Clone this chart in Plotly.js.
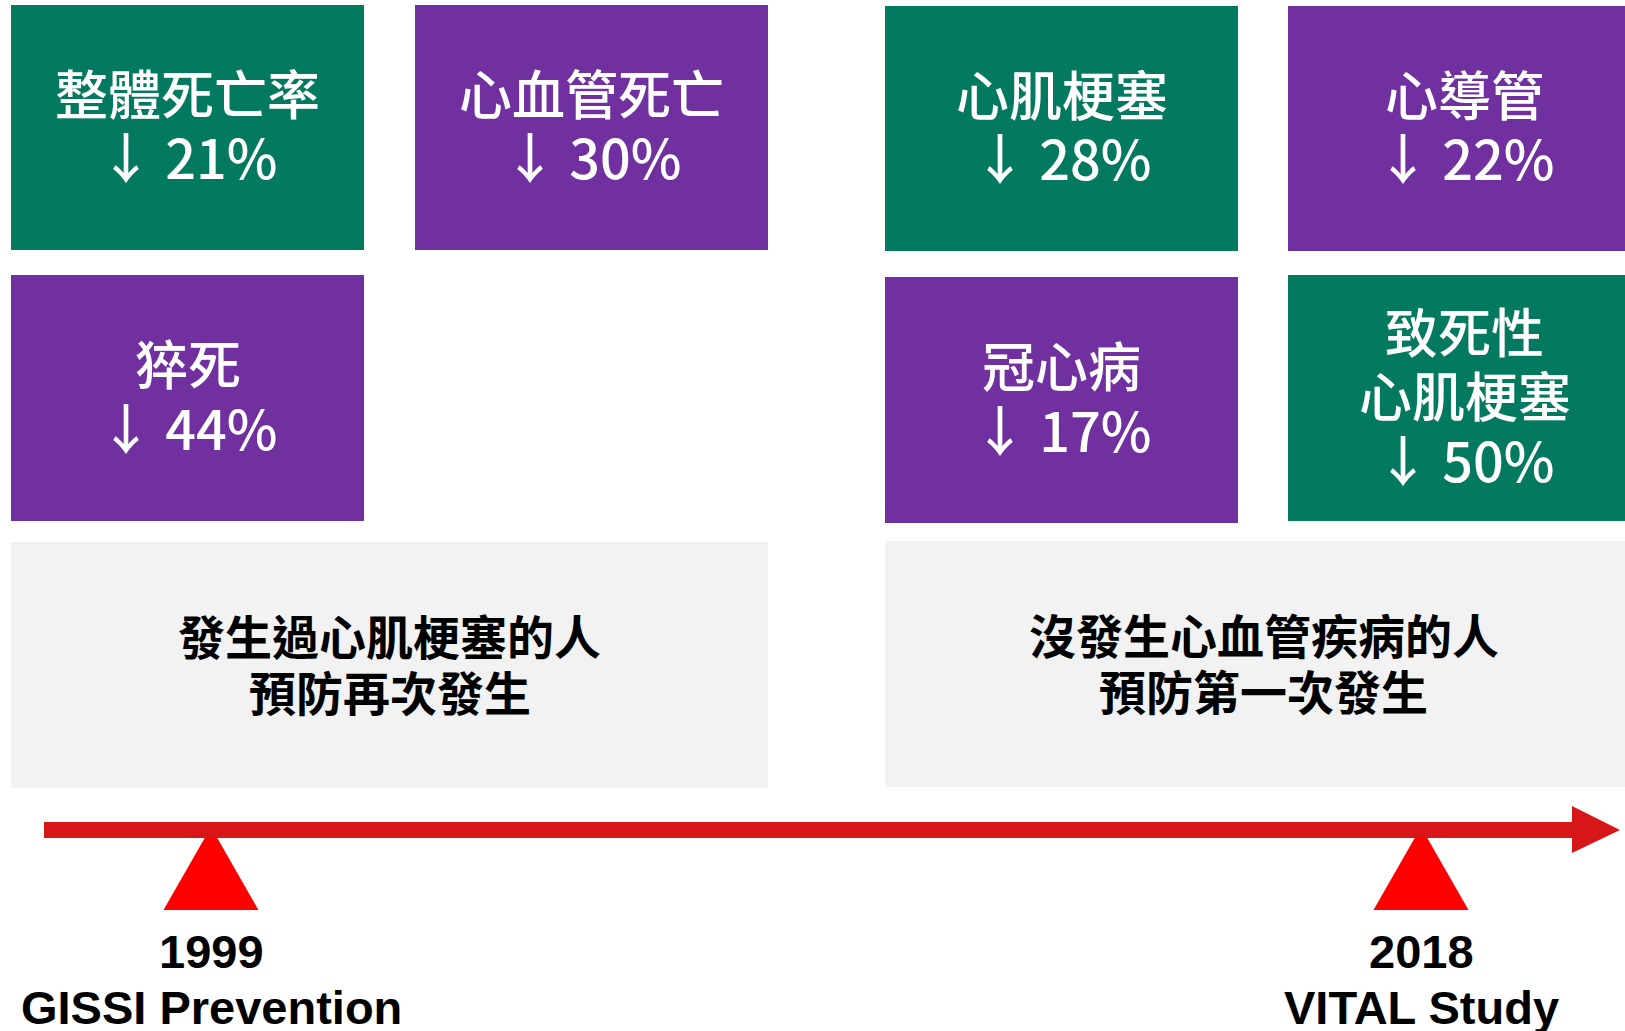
<!DOCTYPE html>
<html>
<head>
<meta charset="utf-8">
<script src="https://cdn.plot.ly/plotly-3.0.1.min.js"></script>
<style>
  html, body { margin: 0; padding: 0; background: #ffffff; }
  #chart { width: 1625px; height: 1031px; }
</style>
</head>
<body>
<div id="chart"></div>
<script>
// ---------------- DATA ----------------
const studyYears = [1999, 2018];
const studyNames = ['GISSI Prevention', 'VITAL Study'];
const populations = ['發生過心肌梗塞的人<br>預防再次發生', '沒發生心血管疾病的人<br>預防第一次發生'];

const gissiOutcomes = ['整體死亡率', '心血管死亡', '猝死'];
const gissiReductions = [21, 30, 44];

const vitalOutcomes = ['心肌梗塞', '心導管', '冠心病', '致死性<br>心肌梗塞'];
const vitalReductions = [28, 22, 17, 50];

// ---------------- LAYOUT CONFIG (positions / styles) ----------------
const W = 1625, H = 1031;
const GREEN = '#03795F', PURPLE = '#7030A0', GRAY = '#F2F2F2', LINE_RED = '#D71717', TRI_RED = '#FF0000';

// tile cells: [x0, x1, y0, y1] in page pixels
const gissiCells = [[11, 364, 5, 250], [415, 768, 5, 250], [11, 364, 275, 521]];
const gissiColors = [GREEN, PURPLE, PURPLE];
const vitalCells = [[885, 1238, 6, 251], [1288, 1641, 6, 251], [885, 1238, 277, 523], [1288, 1641, 275, 521]];
const vitalColors = [GREEN, PURPLE, PURPLE, GREEN];
const popCells = [[11, 768, 542, 788], [885, 1642, 541, 787]];

// timeline: year -> pixel via a dedicated year axis (x2)
const yearPx = [211, 1421];
const pxPerYear = (yearPx[1] - yearPx[0]) / (studyYears[1] - studyYears[0]);
const yearRange = [studyYears[0] - yearPx[0] / pxPerYear, studyYears[0] + (W - yearPx[0]) / pxPerYear];
const triHalfYears = 47.5 / pxPerYear;

const shapes = [];
const annotations = [];

const CJK = '"Noto Sans CJK TC", "Noto Sans CJK JP", sans-serif';

function addTile(cell, color, label, value) {
  shapes.push({ type: 'rect', xref: 'x', yref: 'y', x0: cell[0], x1: cell[1], y0: cell[2], y1: cell[3],
    fillcolor: color, line: { width: 0 }, layer: 'below' });
  const cx = (cell[0] + cell[1]) / 2, cy = (cell[2] + cell[3]) / 2 - 4;
  const lines = label.split('<br>');
  const all = lines.concat(['↓ ' + value + '%']);
  const step = 64;
  const start = cy - step * (all.length - 1) / 2;
  all.forEach((t, i) => {
    const isVal = i === all.length - 1;
    annotations.push({ xref: 'x', yref: 'y', x: cx, y: start + i * step, text: t, showarrow: false,
      xanchor: 'center', yanchor: 'middle',
      font: { family: CJK, size: isVal ? 54 : 53, color: '#FFFFFF', weight: 500 } });
  });
}

gissiOutcomes.forEach((o, i) => addTile(gissiCells[i], gissiColors[i], o, gissiReductions[i]));
vitalOutcomes.forEach((o, i) => addTile(vitalCells[i], vitalColors[i], o, vitalReductions[i]));

populations.forEach((p, i) => {
  const c = popCells[i];
  shapes.push({ type: 'rect', xref: 'x', yref: 'y', x0: c[0], x1: c[1], y0: c[2], y1: c[3],
    fillcolor: GRAY, line: { width: 0 }, layer: 'below' });
  const cx = (c[0] + c[1]) / 2, cy = (c[2] + c[3]) / 2 - 3;
  const lines = p.split('<br>');
  const step = 56;
  const start = cy - step * (lines.length - 1) / 2;
  lines.forEach((t, j) => {
    annotations.push({ xref: 'x', yref: 'y', x: cx, y: start + j * step, text: t, showarrow: false,
      xanchor: 'center', yanchor: 'middle',
      font: { family: CJK, size: 47, color: '#000000', weight: 700 } });
  });
});

// timeline arrow
shapes.push({ type: 'rect', xref: 'x', yref: 'y', x0: 44, x1: 1573, y0: 822, y1: 838,
  fillcolor: LINE_RED, line: { width: 0 } });
shapes.push({ type: 'path', xref: 'x', yref: 'y', path: 'M1572,806 L1620,830 L1572,853 Z',
  fillcolor: LINE_RED, line: { width: 0 } });

// study markers (triangles) on the year axis
const traces = studyYears.map((yr) => ({
  type: 'scatter', mode: 'lines', xaxis: 'x2', yaxis: 'y',
  x: [yr - triHalfYears, yr, yr + triHalfYears, yr - triHalfYears],
  y: [910, 827, 910, 910],
  fill: 'toself', fillcolor: TRI_RED, line: { width: 0, color: TRI_RED },
  hoverinfo: 'skip', showlegend: false
}));

studyYears.forEach((yr, i) => {
  annotations.push({ xref: 'x2', yref: 'y', x: yr, y: 951, text: '<b>' + yr + '</b>', showarrow: false,
    xanchor: 'center', yanchor: 'middle',
    font: { family: 'Liberation Sans, Arial, sans-serif', size: 47, color: '#000000' } });
  annotations.push({ xref: 'x2', yref: 'y', x: yr, y: 1007, text: '<b>' + studyNames[i] + '</b>', showarrow: false,
    xanchor: 'center', yanchor: 'middle',
    font: { family: 'Liberation Sans, Arial, sans-serif', size: 47, color: '#000000' } });
});

const layout = {
  width: W, height: H,
  margin: { l: 0, r: 0, t: 0, b: 0, pad: 0 },
  paper_bgcolor: '#FFFFFF', plot_bgcolor: '#FFFFFF',
  showlegend: false,
  xaxis: { range: [0, W], visible: false, fixedrange: true },
  xaxis2: { range: yearRange, visible: false, overlaying: 'x', fixedrange: true },
  yaxis: { range: [H, 0], visible: false, fixedrange: true },
  shapes: shapes,
  annotations: annotations
};

Plotly.newPlot('chart', traces, layout, { staticPlot: true, displayModeBar: false });
</script>
</body>
</html>
